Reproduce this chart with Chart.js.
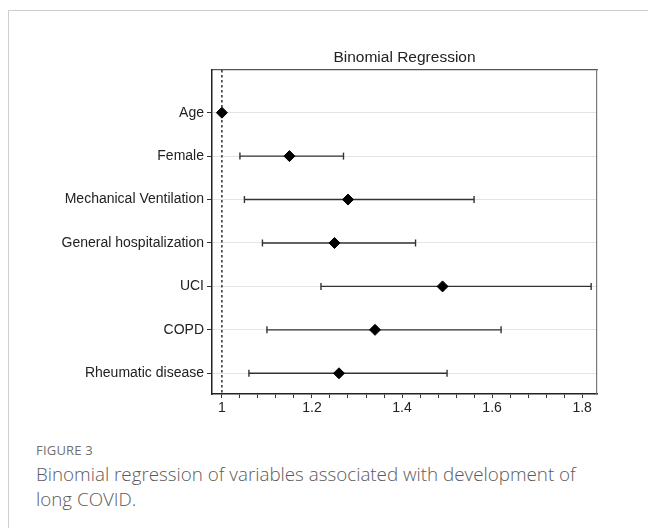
<!DOCTYPE html>
<html>
<head>
<meta charset="utf-8">
<script src="https://cdn.jsdelivr.net/npm/chart.js@4"></script>
<style>
  html, body { margin: 0; padding: 0; background: #fff; }
  body { width: 648px; height: 528px; position: relative; overflow: hidden; }
  .card { position: absolute; left: 8px; top: 10px; width: 700px; height: 600px; border: 1px solid #cfcfcf; }
  #wrap { position: absolute; left: 0; top: 0; width: 648px; height: 430px; }
  .fig { position: absolute; left: 36px; top: 441px; font-family: "Open Sans", sans-serif; font-size: 13px; color: #707070; letter-spacing: 0.2px; }
  .cap { position: absolute; left: 36px; top: 462px; width: 575px; font-family: "Open Sans", sans-serif; font-size: 18.8px; line-height: 25px; color: #5a5a5a; font-weight: 300; }
</style>
</head>
<body>
<div class="card"></div>
<div id="wrap"><canvas id="chart"></canvas></div>
<div class="fig">FIGURE 3</div>
<div class="cap">Binomial regression of variables associated with development of long COVID.</div>
<script>
const categories = ['Age', 'Female', 'Mechanical Ventilation', 'General hospitalization', 'UCI', 'COPD', 'Rheumatic disease'];
const estimate = [1.00, 1.15, 1.28, 1.25, 1.49, 1.34, 1.26];
const lower    = [1.00, 1.04, 1.05, 1.09, 1.22, 1.10, 1.06];
const upper    = [1.00, 1.27, 1.56, 1.43, 1.82, 1.62, 1.50];
const xTickLabels = [1, 1.2, 1.4, 1.6, 1.8];
const refLine = 1;

const X_MIN = 0.978, X_MAX = 1.833;
const Y_MIN = -0.983, Y_MAX = 6.477;
const FONT = '"Liberation Sans", Arial, sans-serif';

// minor ticks every 0.04 between the labelled ones
const xTicks = [];
for (let v = 1; v <= 1.8001; v += 0.04) xTicks.push(Math.round(v * 100) / 100);

const ciSets = categories.map((c, i) => ({
    type: 'line',
    data: [{ x: lower[i], y: i }, { x: upper[i], y: i }],
    borderColor: '#333', borderWidth: 1.4,
    pointStyle: 'line', rotation: 90, radius: 3.5, pointBorderColor: '#333', pointBorderWidth: 1.4,
    order: 2
}));

const titlePlugin = {
    id: 'topTitle',
    afterDraw(chart) {
        const { ctx, chartArea } = chart;
        ctx.save();
        ctx.font = '15.5px ' + FONT;
        ctx.fillStyle = '#222';
        ctx.textAlign = 'center';
        ctx.textBaseline = 'middle';
        ctx.fillText('Binomial Regression', (chartArea.left + chartArea.right) / 2, chartArea.top - 12);
        ctx.restore();
    }
};

new Chart(document.getElementById('chart'), {
    type: 'scatter',
    data: {
        datasets: [
            {
                type: 'line',
                data: [{ x: refLine, y: Y_MIN }, { x: refLine, y: Y_MAX }],
                borderColor: '#111', borderWidth: 1.3, borderDash: [2.5, 2.5],
                pointRadius: 0, order: 3
            },
            ...ciSets,
            {
                data: estimate.map((v, i) => ({ x: v, y: i })),
                pointStyle: 'rectRot', radius: 5.5,
                backgroundColor: '#000', borderColor: '#000', borderWidth: 1,
                order: 1
            }
        ]
    },
    options: {
        responsive: true, maintainAspectRatio: false, animation: false,
        layout: { padding: 0 },
        plugins: { legend: { display: false }, tooltip: { enabled: false } },
        scales: {
            x: {
                type: 'linear', position: 'bottom', min: X_MIN, max: X_MAX,
                afterBuildTicks: s => { s.ticks = xTicks.map(v => ({ value: v })); },
                afterFit: s => { s.height = 36; },
                ticks: {
                    autoSkip: false, maxRotation: 0, padding: 2,
                    font: { family: FONT, size: 14 }, color: '#222',
                    callback: v => xTickLabels.some(t => Math.abs(t - v) < 1e-6) ? String(+v.toFixed(1)) : ''
                },
                grid: { drawOnChartArea: false, tickLength: 4, tickColor: '#333', tickWidth: 1 },
                border: { color: '#222', width: 1.5 }
            },
            x2: {
                type: 'linear', position: 'top', min: X_MIN, max: X_MAX,
                afterFit: s => { s.height = 70; },
                ticks: { display: false },
                grid: { display: false },
                border: { color: '#555', width: 1.2 }
            },
            y: {
                type: 'linear', position: 'left', reverse: true, min: Y_MIN, max: Y_MAX,
                afterBuildTicks: s => { s.ticks = categories.map((c, i) => ({ value: i })); },
                afterFit: s => { s.width = 212; },
                ticks: {
                    autoSkip: false, padding: 3,
                    font: { family: FONT, size: 14 }, color: '#222',
                    callback: v => categories[v]
                },
                grid: { color: '#e4e4e4', lineWidth: 1, tickLength: 5, tickColor: '#333' },
                border: { color: '#222', width: 1.5 }
            },
            y2: {
                type: 'linear', position: 'right', min: Y_MIN, max: Y_MAX,
                afterFit: s => { s.width = 51; },
                ticks: { display: false },
                grid: { display: false },
                border: { color: '#777', width: 1.2 }
            }
        }
    },
    plugins: [titlePlugin]
});
</script>
</body>
</html>
